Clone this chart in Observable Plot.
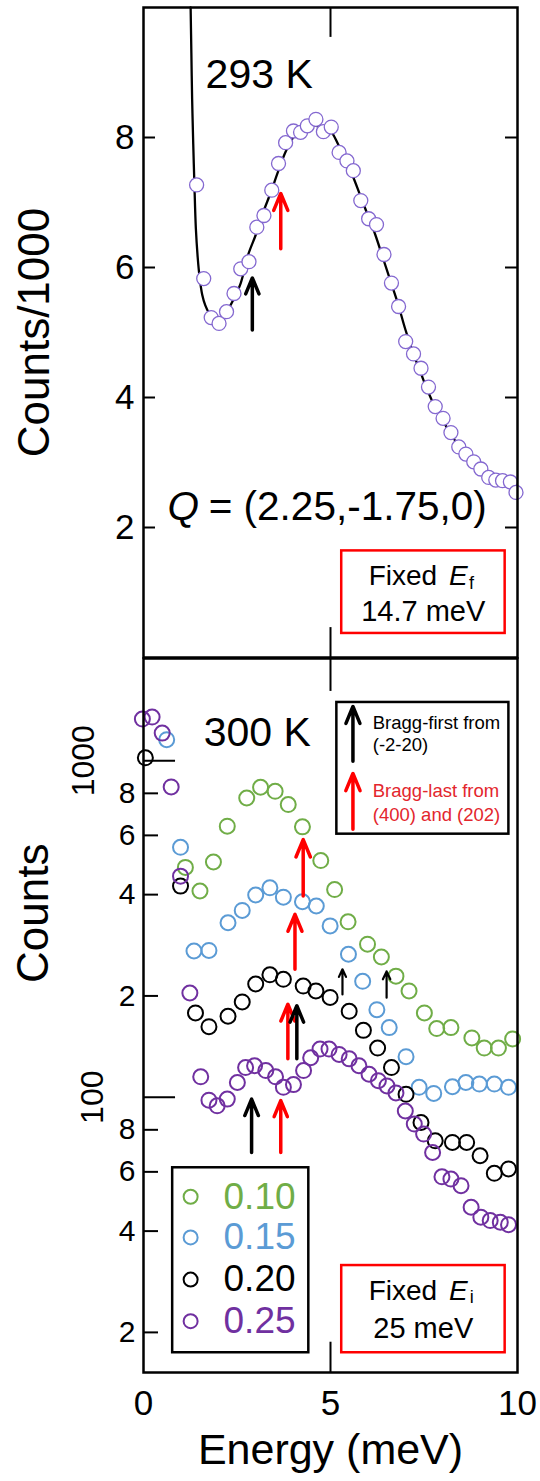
<!DOCTYPE html>
<html><head><meta charset="utf-8">
<script src="https://cdn.jsdelivr.net/npm/d3@7"></script>
<script src="https://cdn.jsdelivr.net/npm/@observablehq/plot@0.6"></script>
<style>
body{margin:0;background:#fff;}
#wrap{position:relative;width:540px;height:1481px;overflow:hidden;background:#fff;}
#top{position:absolute;left:0;top:0;}
#bot{position:absolute;left:0;top:657px;}
</style></head><body><div id="wrap"><div id="top"></div><div id="bot"></div></div>
<script>
const FONT = "'Liberation Sans', Arial, sans-serif";

// ---- Top panel (293 K), counts/1000 ----
const topE = [1.42,1.61,1.81,2.02,2.22,2.42,2.60,2.82,3.03,3.22,3.43,3.61,3.80,4.01,4.20,4.38,4.61,4.81,5.02,5.23,5.44,5.61,5.81,6.02,6.23,6.43,6.63,6.82,7.01,7.22,7.42,7.62,7.80,8.01,8.22,8.43,8.62,8.83,9.02,9.23,9.42,9.60,9.81,9.96];
const topC = [7.27,5.83,5.23,5.14,5.32,5.60,5.98,6.09,6.62,6.80,7.19,7.60,7.92,8.10,8.08,8.18,8.28,8.09,8.16,7.77,7.64,7.49,7.03,6.75,6.66,6.20,5.76,5.40,4.86,4.67,4.45,4.16,3.86,3.68,3.46,3.24,3.13,3.01,2.90,2.77,2.73,2.72,2.70,2.54];
const fitE = [1.26,1.28,1.30,1.33,1.36,1.40,1.45,1.50,1.57,1.65,1.75,1.85,1.95,2.05,2.2,2.4,2.6,2.8,3.0,3.2,3.4,3.6,3.8,4.0,4.2,4.4,4.6,4.8,5.0,5.2,5.4,5.6,5.8,6.0,6.2,6.4,6.6,6.8,7.0,7.2,7.4,7.6,7.8,8.0,8.2,8.4,8.6,8.8,9.0,9.2,9.4,9.6,9.8,10.0];
const fitC = [10.0,9.3,8.6,7.9,7.3,6.6,6.15,5.85,5.58,5.42,5.3,5.23,5.2,5.2,5.3,5.5,5.76,6.2,6.5,6.85,7.15,7.48,7.78,8.0,8.12,8.17,8.18,8.15,8.1,7.9,7.65,7.4,7.1,6.8,6.5,6.15,5.8,5.45,5.05,4.7,4.4,4.1,3.85,3.65,3.45,3.28,3.12,3.0,2.9,2.8,2.74,2.7,2.66,2.6];
const topTicks = [2,4,6,8];
const topArrows = [
  {x:2.91, y1:5.04, y2:5.84, c:"black"},
  {x:3.67, y1:6.29, y2:7.14, c:"red"}
];

// ---- Bottom panel (300 K), counts (log) ----
const seriesNames = ["0.10","0.15","0.20","0.25"];
const seriesColors = ["#70ad47","#5b9bd5","#000000","#7030a0"];
const greenE = [1.12,1.51,1.87,2.24,2.76,3.13,3.52,3.87,4.25,4.74,5.11,5.47,5.99,6.36,6.75,7.10,7.51,7.84,8.22,8.78,9.11,9.49,9.87];
const greenC = [482,410,500,639,775,834,811,741,636,505,414,332,285,261,229,207,178,160,161,150,140,140,149];
const blueE = [0.62,0.99,1.35,1.75,2.26,2.64,3.0,3.38,3.74,4.25,4.62,4.99,5.48,5.86,6.24,6.57,7.02,7.37,7.76,8.26,8.62,8.98,9.38,9.76];
const blueC = [1155,553,272,273,330,359,399,419,393,381,370,323,266,221,182,161,132,107,102.6,107.4,110.6,109.4,109.4,107];
const blackE = [0.05,0.99,1.39,1.75,2.26,2.64,3.0,3.38,3.74,4.27,4.61,4.99,5.50,5.88,6.26,6.63,7.02,7.42,7.80,8.26,8.64,9.0,9.38,9.76];
const blackC = [1020,424,178,162,174,192,217,231,224,214,207,198,180,158,140,122.5,102,84.1,74.2,73.4,73.4,67.0,59.4,61.2];
const purpleE = [-0.03,0.23,0.50,0.74,0.99,1.24,1.53,1.75,1.97,2.24,2.51,2.73,2.97,3.27,3.53,3.74,4.01,4.28,4.47,4.72,4.96,5.23,5.50,5.76,6.03,6.28,6.51,6.75,7.0,7.24,7.49,7.73,7.98,8.22,8.49,8.76,9.02,9.27,9.54,9.76];
const purpleC = [1330,1348,1208,836,454,204,115,98,94.3,98.7,110.6,122.5,124,120,115,107,109,120,131,139,139,134,130,124,117,112,108,103,91,83.2,77.7,68.5,58.0,57.1,54.6,47.1,44.0,43.0,42.5,41.8];
const botMajor = [100,1000];
const botMinor = [20,40,60,80,200,400,600,800];
const botArrowsBig = [
  {x:4.27, y1:396, y2:583, c:"red"},
  {x:4.05, y1:240, y2:349.5, c:"red"},
  {x:3.86, y1:130, y2:189, c:"red"},
  {x:4.10, y1:130, y2:187, c:"black"},
  {x:2.89, y1:68.5, y2:98.7, c:"black"},
  {x:3.67, y1:68.5, y2:97.7, c:"red"},
  {x:5.60, y1:996, y2:1450, c:"black"},
  {x:5.60, y1:626, y2:917, c:"red"}
];
const botArrowsSmall = [
  {x:5.32, y1:202, y2:240, c:"black"},
  {x:6.50, y1:197.5, y2:236.6, c:"black"}
];
const legendY = [50.6,38.3,28.7,21.6];

// build tables
const topPts = topE.map((e,i)=>({e, c: topC[i]}));
const fitPts = fitE.map((e,i)=>({e, c: fitC[i]}));
const botPts = [greenE,blueE,blackE,purpleE].flatMap((E,k)=>{
  const C = [greenC,blueC,blackC,purpleC][k];
  return E.map((e,i)=>({e, c:C[i], s:seriesNames[k], col:seriesColors[k]}));
});
const legend = seriesNames.map((s,i)=>({s, y:legendY[i], col:seriesColors[i]}));

const TX = 12/37.35; // inward tick length in x units

const topPlot = Plot.plot({
  width:540, height:658, marginLeft:143, marginRight:23, marginTop:7, marginBottom:1,
  style:{fontFamily:FONT, background:"transparent", overflow:"visible", color:"black"},
  x:{domain:[0,10], axis:null},
  y:{domain:[0,10], axis:null},
  marks:[
    Plot.ruleY(topTicks, {x1:0, x2:TX, stroke:"black", strokeWidth:2}),
    Plot.ruleY(topTicks, {x1:10-TX, x2:10, stroke:"black", strokeWidth:2}),
    Plot.ruleX([5], {y1:10, y2:9.54, stroke:"black", strokeWidth:2}),
    Plot.ruleX([5], {y1:0, y2:0.46, stroke:"black", strokeWidth:2}),
    Plot.text(topTicks, {y:d=>d, text:d=>String(d), frameAnchor:"left", dx:-9, textAnchor:"end", fontSize:35}),
    Plot.text(["Counts/1000"], {frameAnchor:"left", dx:-109, rotate:-90, textAnchor:"middle", fontSize:44}),
    Plot.line(fitPts, {x:"e", y:"c", stroke:"black", strokeWidth:2.3, curve:"catmull-rom"}),
    Plot.dot(topPts, {x:"e", y:"c", r:7, fill:"white", stroke:"#8468d0", strokeWidth:1.3}),
    Plot.arrow(topArrows, {x1:"x", x2:"x", y1:"y1", y2:"y2", stroke:"c", strokeWidth:3.5, headLength:15, headAngle:45}),
    Plot.text(["293 K"], {x:1.66, y:8.96, textAnchor:"start", fontSize:41}),
    Plot.text(["Q"], {x:0.64, y:2.31, textAnchor:"start", fontSize:40.5, fontStyle:"italic"}),
    Plot.text([" = (2.25,-1.75,0)"], {x:0.64, y:2.31, dx:30, textAnchor:"start", fontSize:40.5}),
    Plot.rect([{}], {x1:5.30, x2:9.67, y1:1.64, y2:0.37, fill:"white", stroke:"red", strokeWidth:2.5}),
    Plot.text(["Fixed"], {x:6.02, y:1.257, textAnchor:"start", fontSize:28}),
    Plot.text(["E"], {x:8.17, y:1.257, textAnchor:"start", fontSize:28, fontStyle:"italic"}),
    Plot.text(["f"], {x:8.70, y:1.257, dy:7, textAnchor:"start", fontSize:18}),
    Plot.text(["14.7 meV"], {x:7.48, y:0.706, textAnchor:"middle", fontSize:29}),
    Plot.frame({stroke:"black", strokeWidth:2.5})
  ]
});
document.getElementById("top").appendChild(topPlot);

const yTop = 2013, yBot = 15.2;
const botPlot = Plot.plot({
  width:540, height:824, marginLeft:143, marginRight:23, marginTop:1, marginBottom:109,
  style:{fontFamily:FONT, background:"transparent", overflow:"visible", color:"black"},
  x:{domain:[0,10], axis:null},
  y:{type:"log", domain:[yBot, yTop], axis:null},
  marks:[
    Plot.ruleY(botMajor, {x1:0, x2:32/37.35, stroke:"black", strokeWidth:2}),
    Plot.ruleY(botMinor, {x1:0, x2:15/37.35, stroke:"black", strokeWidth:2}),
    Plot.ruleX([5], {y1:yTop, y2:1607, stroke:"black", strokeWidth:2}),
    Plot.ruleX([5], {y1:yBot, y2:18.7, stroke:"black", strokeWidth:2}),
    Plot.text(botMinor, {y:d=>d, text:d=>String(d).charAt(0), frameAnchor:"left", dx:-8, textAnchor:"end", fontSize:30}),
    Plot.text([1000], {y:d=>d, text:d=>String(d), frameAnchor:"left", dx:-60, rotate:-90, textAnchor:"middle", fontSize:32}),
    Plot.text([100], {y:d=>d, text:d=>String(d), frameAnchor:"left", dx:-51, rotate:-90, textAnchor:"middle", fontSize:32}),
    Plot.text(["Counts"], {y:352, frameAnchor:"left", dx:-110, rotate:-90, textAnchor:"middle", fontSize:44}),
    Plot.text([0,5,10], {x:d=>d, text:d=>String(d), frameAnchor:"bottom", dy:42, fontSize:35}),
    Plot.text(["Energy (meV)"], {frameAnchor:"bottom", dy:91, fontSize:43}),
    Plot.dot(botPts, {x:"e", y:"c", r:7.5, fill:"none", stroke:"col", strokeWidth:2}),
    Plot.arrow(botArrowsBig, {x1:"x", x2:"x", y1:"y1", y2:"y2", stroke:"c", strokeWidth:3.5, headLength:15, headAngle:45}),
    Plot.arrow(botArrowsSmall, {x1:"x", x2:"x", y1:"y1", y2:"y2", stroke:"c", strokeWidth:2.2, headLength:10, headAngle:50}),
    Plot.text(["300 K"], {x:1.61, y:1214, textAnchor:"start", fontSize:41}),
    // Bragg legend box
    Plot.rect([{}], {x1:5.17, x2:9.77, y1:1490, y2:605, fill:"none", stroke:"black", strokeWidth:2.5}),
    Plot.text(["Bragg-first from"], {x:6.13, y:1296, textAnchor:"start", fontSize:18.5}),
    Plot.text(["(-2-20)"], {x:6.13, y:1115, textAnchor:"start", fontSize:18.5}),
    Plot.text(["Bragg-last from"], {x:6.13, y:814, textAnchor:"start", fontSize:18.5, fill:"#e3262d"}),
    Plot.text(["(400) and (202)"], {x:6.13, y:691, textAnchor:"start", fontSize:18.5, fill:"#e3262d"}),
    // series legend
    Plot.rect([{}], {x1:0.78, x2:4.42, y1:61.7, y2:17.4, fill:"white", stroke:"black", strokeWidth:2.5}),
    Plot.dot(legend, {x:1.26, y:"y", r:7, fill:"none", stroke:"col", strokeWidth:2}),
    Plot.text(legend, {x:2.14, y:"y", text:"s", fill:"col", textAnchor:"start", fontSize:37}),
    // Fixed Ei box
    Plot.rect([{}], {x1:5.30, x2:9.67, y1:31.6, y2:17.4, fill:"white", stroke:"red", strokeWidth:2.5}),
    Plot.text(["Fixed"], {x:6.02, y:26.6, textAnchor:"start", fontSize:28}),
    Plot.text(["E"], {x:8.17, y:26.6, textAnchor:"start", fontSize:28, fontStyle:"italic"}),
    Plot.text(["i"], {x:8.72, y:26.6, dy:7, textAnchor:"start", fontSize:18}),
    Plot.text(["25 meV"], {x:7.48, y:20.55, textAnchor:"middle", fontSize:29}),
    Plot.frame({stroke:"black", strokeWidth:2.5})
  ]
});
document.getElementById("bot").appendChild(botPlot);
</script>
</body></html>
